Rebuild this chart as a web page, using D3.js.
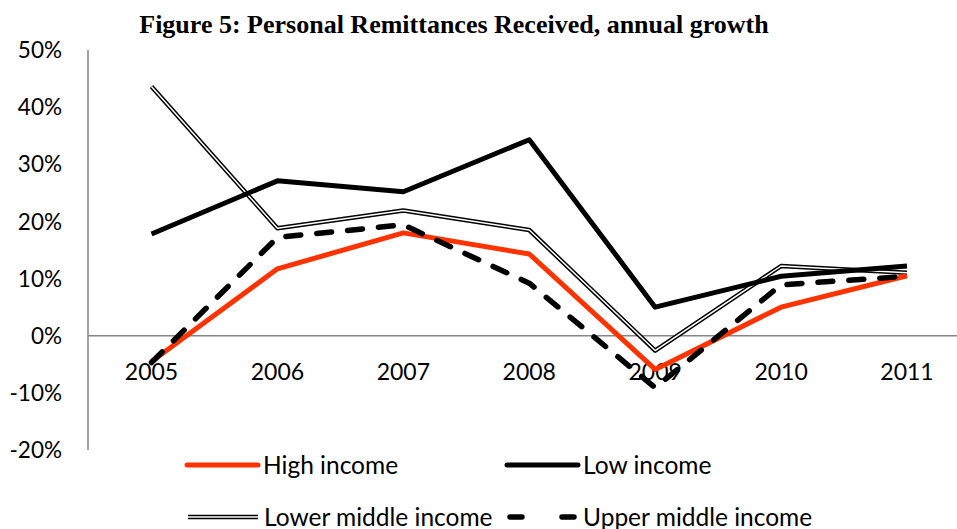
<!DOCTYPE html>
<html>
<head>
<meta charset="utf-8">
<script src="https://cdn.jsdelivr.net/npm/d3@7"></script>
<style>
  body { margin: 0; background: #fff; }
  svg { display: block; }
</style>
</head>
<body>
<div id="vis"></div>
<script>
var years = ["2005", "2006", "2007", "2008", "2009", "2010", "2011"];
var yTicks = [-0.2, -0.1, 0, 0.1, 0.2, 0.3, 0.4, 0.5];

var highIncome = [-0.045, 0.117, 0.180, 0.143, -0.059, 0.050, 0.105];
var lowIncome = [0.178, 0.271, 0.252, 0.343, 0.050, 0.104, 0.122];
var lowerMiddle = [0.436, 0.188, 0.219, 0.185, -0.026, 0.122, 0.110];
var upperMiddle = [-0.047, 0.172, 0.194, 0.092, -0.091, 0.089, 0.104];

var seriesNames = ["High income", "Low income", "Lower middle income", "Upper middle income"];

var width = 957, height = 529;
var margin = {top: 50, left: 88};

var svg = d3.select("#vis").append("svg")
    .attr("width", width)
    .attr("height", height);

var x = d3.scalePoint()
    .domain(years)
    .range([151.5, 907])
var y = d3.scaleLinear()
    .domain([-0.2, 0.5])
    .range([450, 50]);

// title
svg.append("text")
    .attr("x", 454)
    .attr("y", 33)
    .attr("text-anchor", "middle")
    .style("font-family", "'Liberation Serif', 'Times New Roman', serif")
    .style("font-weight", "bold")
    .style("font-size", "26px")
    .text("Figure 5: Personal Remittances Received, annual growth");

// y axis line and labels
svg.append("line")
    .attr("x1", margin.left).attr("x2", margin.left)
    .attr("y1", y(0.5)).attr("y2", y(-0.2))
    .attr("stroke", "#868686")
    .attr("stroke-width", 1.5);

svg.append("g").selectAll("text")
    .data(yTicks)
    .enter().append("text")
    .attr("x", 62)
    .attr("y", function(d) { return y(d); })
    .attr("dy", "0.36em")
    .attr("text-anchor", "end")
    .style("font-family", "Lato, 'Noto Sans', sans-serif")
    .style("font-size", "22.5px")
    .text(function(d) { return d3.format(".0%")(d).replace("−", "-"); });

// zero line
svg.append("line")
    .attr("x1", margin.left).attr("x2", width)
    .attr("y1", y(0)).attr("y2", y(0))
    .attr("stroke", "#868686")
    .attr("stroke-width", 1.5);

// x labels
svg.append("g").selectAll("text")
    .data(years)
    .enter().append("text")
    .attr("x", function(d) { return x(d); })
    .attr("y", y(0) + 44)
    .attr("text-anchor", "middle")
    .style("font-family", "Lato, 'Noto Sans', sans-serif")
    .style("font-size", "23px")
    .text(function(d) { return d; });

var line = d3.line()
    .x(function(d, i) { return x(years[i]); })
    .y(function(d) { return y(d); });

var plot = svg.append("g").attr("class", "lines");

function drawLine(values, stroke, w, dash) {
  var p = plot.append("path")
    .attr("d", line(values))
    .attr("fill", "none")
    .attr("stroke", stroke)
    .attr("stroke-width", w)
    .attr("stroke-linejoin", "round");
  if (dash) p.attr("stroke-dasharray", dash).attr("stroke-linecap", "round");
  return p;
}

// order: lower middle first, then others
drawLine(lowerMiddle, "#000", 4.5);
drawLine(lowerMiddle, "#fff", 1.5);
drawLine(highIncome, "#FF3300", 5);
drawLine(upperMiddle, "#000", 5.5, "15,16");
drawLine(lowIncome, "#000", 5);

// legend
var legend = svg.append("g").attr("class", "legend");
var legendItems = [
  {name: seriesNames[0], x: 187, y: 465, type: "red"},
  {name: seriesNames[1], x: 507, y: 465, type: "black"},
  {name: seriesNames[2], x: 188, y: 517, type: "double"},
  {name: seriesNames[3], x: 507, y: 517, type: "dash"}
];

legendItems.forEach(function(d) {
  var g = legend.append("g").attr("transform", "translate(" + d.x + "," + d.y + ")");
  if (d.type == "red") {
    g.append("line").attr("x1", 0).attr("x2", 71).attr("stroke", "#FF3300").attr("stroke-width", 5).attr("stroke-linecap", "round");
  } else if (d.type == "black") {
    g.append("line").attr("x1", 0).attr("x2", 71).attr("stroke", "#000").attr("stroke-width", 5).attr("stroke-linecap", "round");
  } else if (d.type == "double") {
    g.append("line").attr("x1", 0).attr("x2", 70).attr("stroke", "#000").attr("stroke-width", 4.5);
    g.append("line").attr("x1", 0).attr("x2", 70).attr("stroke", "#fff").attr("stroke-width", 1.5);
  } else {
    g.append("line").attr("x1", 3).attr("x2", 67).attr("stroke", "#000").attr("stroke-width", 5.5)
      .attr("stroke-dasharray", "12,40").attr("stroke-linecap", "round");
  }
  g.append("text")
    .attr("x", 76)
    .attr("dy", "0.36em")
    .style("font-family", "Lato, 'Noto Sans', sans-serif")
    .style("font-size", "24.5px")
    .text(d.name);
});
</script>
</body>
</html>
